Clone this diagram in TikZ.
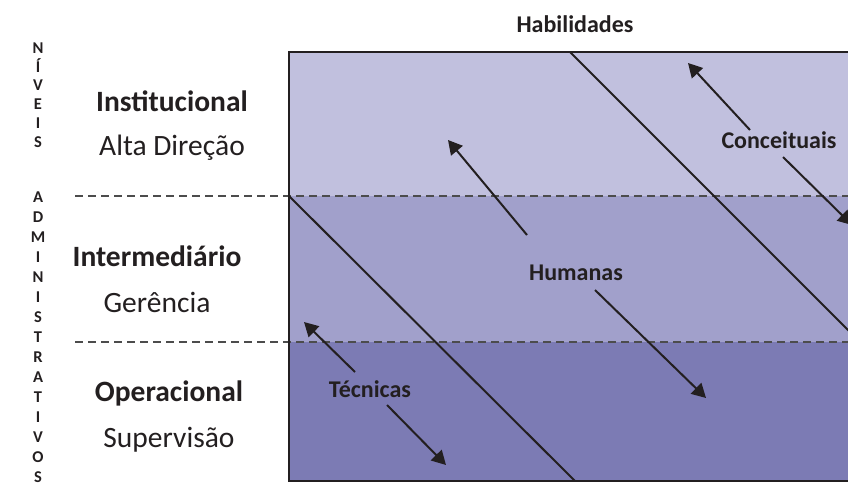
\documentclass[tikz,border=0pt]{standalone}
\usepackage{fontspec}
\setmainfont{Carlito}
\usetikzlibrary{arrows.meta,calc}
\definecolor{faixaA}{RGB}{193,192,222}
\definecolor{faixaB}{RGB}{161,160,203}
\definecolor{faixaC}{RGB}{124,123,180}
\definecolor{tinta}{RGB}{35,31,32}

\tikzset{
	nivel/.style={font=\fontsize{29.5}{32}\selectfont\bfseries, text=tinta},
	cargo/.style={font=\fontsize{29.5}{32}\selectfont, text=tinta},
	habil/.style={font=\fontsize{24}{26}\selectfont\bfseries, text=tinta},
	vert/.style={align=center, text=tinta},
	seta/.style={line width=2pt, tinta, -{Triangle[length=14pt,width=15pt]}},
	diag/.style={line width=2pt, tinta},
	divisa/.style={dash pattern=on 8pt off 5pt, line width=1.2pt, black!70}
}

\begin{document}
\begin{tikzpicture}[x=1pt,y=-1pt]
		\useasboundingbox (0,0) rectangle (848,486);
		\clip (0,0) rectangle (848,486);
%
		\fill[faixaA] (289,52) rectangle (870,196);
		\fill[faixaB] (289,196) rectangle (870,342);
		\fill[faixaC] (289,342) rectangle (870,481);
		\draw[divisa] (75,196) -- (848,196);
		\draw[divisa] (75,342) -- (848,342);
		\draw[diag] (289,196) -- (575,481);
		\draw[diag] (570,52) -- (870,352);
		\draw[line width=2pt, tinta] (870,52) -- (289,52) -- (289,481) -- (870,481);
%
		\node[vert, font=\fontsize{16.5}{18.8}\selectfont\bfseries] (niveis) at (38,95) {N\\Í\\V\\E\\I\\S};
		\node[vert, font=\fontsize{16.5}{20}\selectfont\bfseries] (admin) at (38,337) {A\\D\\M\\I\\N\\I\\S\\T\\R\\A\\T\\I\\V\\O\\S};
		\node[habil] (hab) at (575,24) {Habilidades};
%
		\node[nivel] (inst) at (172,101) {Institucional};
		\node[cargo] (alta) at (172,148) {Alta Direção};
		\node[nivel] (inter) at (157,256) {Intermediário};
		\node[cargo] (ger) at (157,302) {Gerência};
		\node[nivel] (oper) at (169,393) {Operacional};
		\node[cargo] (sup) at (169,440) {Supervisão};
%
		\node[habil] (conc) at (779,140) {Conceituais};
		\node[habil] (hum) at (576,273) {Humanas};
		\node[habil] (tec) at (370,389) {Técnicas};
%
		\coordinate (concA) at (750,130);
		\coordinate (concB) at (688,63);
		\coordinate (concC) at (783,157);
		\coordinate (concD) at (852,225);
		\coordinate (humA) at (527,235);
		\coordinate (humB) at (448,140);
		\coordinate (humC) at (595,290);
		\coordinate (humD) at (706,398);
		\coordinate (tecA) at (355,372);
		\coordinate (tecB) at (304,322);
		\coordinate (tecC) at (387,405);
		\coordinate (tecD) at (446,465);
		\path[seta]
			(concA) edge (concB)
			(concC) edge (concD)
			(humA) edge (humB)
			(humC) edge (humD)
			(tecA) edge (tecB)
			(tecC) edge (tecD);
	\end{tikzpicture}
\end{document}
